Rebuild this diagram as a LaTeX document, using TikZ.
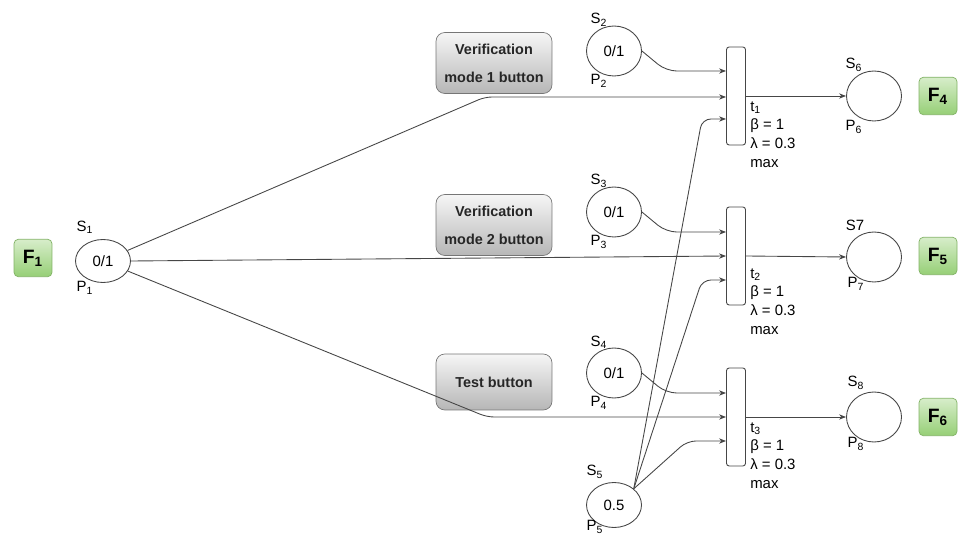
\documentclass[tikz,border=0pt]{standalone}
\usepackage{fontspec}
\setmainfont{Liberation Sans}
\usepackage{xcolor}
\usetikzlibrary{calc}
\usetikzlibrary{positioning}
\usetikzlibrary{shapes.geometric}
\usetikzlibrary{arrows.meta}
\definecolor{fgreen-top}{RGB}{215, 237, 202}
\definecolor{fgreen-bot}{RGB}{150, 207, 118}
\definecolor{fgreen-line}{RGB}{130, 179, 102}
\definecolor{btn-top}{RGB}{246, 246, 246}
\definecolor{btn-bot}{RGB}{182, 182, 182}
\definecolor{btn-line}{RGB}{118, 118, 118}
\definecolor{wire}{RGB}{70, 70, 70}

\tikzset{
  place/.style={ellipse, draw=wire, line width=0.5pt, minimum width=1.1cm, minimum height=1cm, inner sep=0pt, font=\fontsize{8.5}{10.8}\selectfont},
  trans/.style={draw=wire, line width=0.5pt, rounded corners=1.5pt, minimum width=0.38cm, minimum height=1.96cm, inner sep=0pt},
  fbox/.style={draw=fgreen-line, top color=fgreen-top, bottom color=fgreen-bot, rounded corners=2.5pt, minimum width=0.76cm, minimum height=0.75cm, inner sep=0pt, font=\fontsize{11}{13}\selectfont\bfseries},
  btn/.style={draw=btn-line, top color=btn-top, bottom color=btn-bot, rounded corners=5pt, minimum width=2.32cm, minimum height=1.22cm, inner sep=0pt, align=center, text=black!85, font=\fontsize{8.2}{16}\selectfont\bfseries},
  lbl/.style={inner sep=0pt, font=\fontsize{8.5}{10.8}\selectfont},
  flow/.style={draw=wire, line width=0.5pt, -{Stealth[length=4pt, width=3pt]}}
}

\begin{document}
\begin{tikzpicture}[x=0.02cm, y=-0.02cm]
\useasboundingbox (0,0) rectangle (959,536);

% places
\node[place, minimum height=0.86cm] (p1) at (103,261) {0/1};
\node[place] (p2) at (614,51) {0/1};
\node[place] (p3) at (614,212) {0/1};
\node[place] (p4) at (614,373) {0/1};
\node[place, minimum height=0.9cm] (p5) at (614,505) {0.5};
\node[place] (p6) at (874,96) {};
\node[place] (p7) at (874,257) {};
\node[place] (p8) at (874,417) {};

% S and P labels
\node[lbl] (s1) at ($(p1)+(-18,-34)$) {S\textsubscript{1}};
\node[lbl] (n1) at ($(p1)+(-18,27)$) {P\textsubscript{1}};
\node[lbl] (s2) at ($(p2)+(-15,-31)$) {S\textsubscript{2}};
\node[lbl] (n2) at ($(p2)+(-15,30)$) {P\textsubscript{2}};
\node[lbl] (s3) at ($(p3)+(-15,-31)$) {S\textsubscript{3}};
\node[lbl] (n3) at ($(p3)+(-15,30)$) {P\textsubscript{3}};
\node[lbl] (s4) at ($(p4)+(-15,-31)$) {S\textsubscript{4}};
\node[lbl] (n4) at ($(p4)+(-15,30)$) {P\textsubscript{4}};
\node[lbl] (s5) at ($(p5)+(-19,-33)$) {S\textsubscript{5}};
\node[lbl] (n5) at ($(p5)+(-19,22)$) {P\textsubscript{5}};
\node[lbl] (s6) at ($(p6)+(-20,-31)$) {S\textsubscript{6}};
\node[lbl] (n6) at ($(p6)+(-20,31)$) {P\textsubscript{6}};
\node[lbl] (s7) at ($(p7)+(-19,-32)$) {S7};
\node[lbl] (n7) at ($(p7)+(-18,27)$) {P\textsubscript{7}};
\node[lbl] (s8) at ($(p8)+(-18,-34)$) {S\textsubscript{8}};
\node[lbl] (n8) at ($(p8)+(-18,27)$) {P\textsubscript{8}};

% transitions
\node[trans] (t1) at (736,96) {};
\node[trans] (t2) at (736,256) {};
\node[trans] (t3) at (736,417) {};

\node[lbl, anchor=north west, align=left] (r1) at ($(t1.east)+(4,5)$) {t\textsubscript{1}\\β = 1\\λ = 0.3\\max};
\node[lbl, anchor=north west, align=left] (r2) at ($(t2.east)+(4,12)$) {t\textsubscript{2}\\β = 1\\λ = 0.3\\max};
\node[lbl, anchor=north west, align=left] (r3) at ($(t3.east)+(4,5)$) {t\textsubscript{3}\\β = 1\\λ = 0.3\\max};

% F boxes
\node[fbox] (f1) at (33,258) {F\textsubscript{1}};
\node[fbox] (f4) at (938,96) {F\textsubscript{4}};
\node[fbox] (f5) at (938,256) {F\textsubscript{5}};
\node[fbox] (f6) at (938,417) {F\textsubscript{6}};

% buttons
\node[btn] (b1) at (494,63) {Verification\\mode 1 button};
\node[btn] (b2) at (494,225) {Verification\\mode 2 button};
\node[btn, minimum height=1.12cm] (b3) at (494,382) {Test button};

% bends
\coordinate (k1) at (485,97);
\coordinate (k3) at (487,417);

% arcs from P1
\draw[flow, rounded corners=4pt] (p1) -- (k1) -- (k1 -| t1.west);
\draw[flow] (p1.east) -- (t2.west);
\draw[flow, rounded corners=4pt] (p1) -- (k3) -- (k3 -| t3.west);

% arcs from P2, P3, P4
\draw[flow, rounded corners=6pt] (p2.east) -- ($(t1.west)+(-60,-25)$) -- ($(t1.west)+(0,-25)$);
\draw[flow, rounded corners=6pt] (p3.east) -- ($(t2.west)+(-60,-24)$) -- ($(t2.west)+(0,-24)$);
\draw[flow, rounded corners=6pt] (p4.east) -- ($(t3.west)+(-60,-24)$) -- ($(t3.west)+(0,-24)$);

% arcs from P5
\draw[flow, rounded corners=5pt] (p5.north east) -- ($(t1.west)+(-24,23)$) -- ($(t1.west)+(0,23)$);
\draw[flow, rounded corners=5pt] (p5.north east) -- ($(t2.west)+(-24,24)$) -- ($(t2.west)+(0,24)$);
\draw[flow, rounded corners=5pt] (p5.north east) -- ($(t3.west)+(-39,24)$) -- ($(t3.west)+(0,24)$);

% outputs
\draw[flow] (t1.east) -- (p6.west);
\draw[flow] (t2.east) -- (p7.west);
\draw[flow] (t3.east) -- (p8.west);
\end{tikzpicture}
\end{document}
